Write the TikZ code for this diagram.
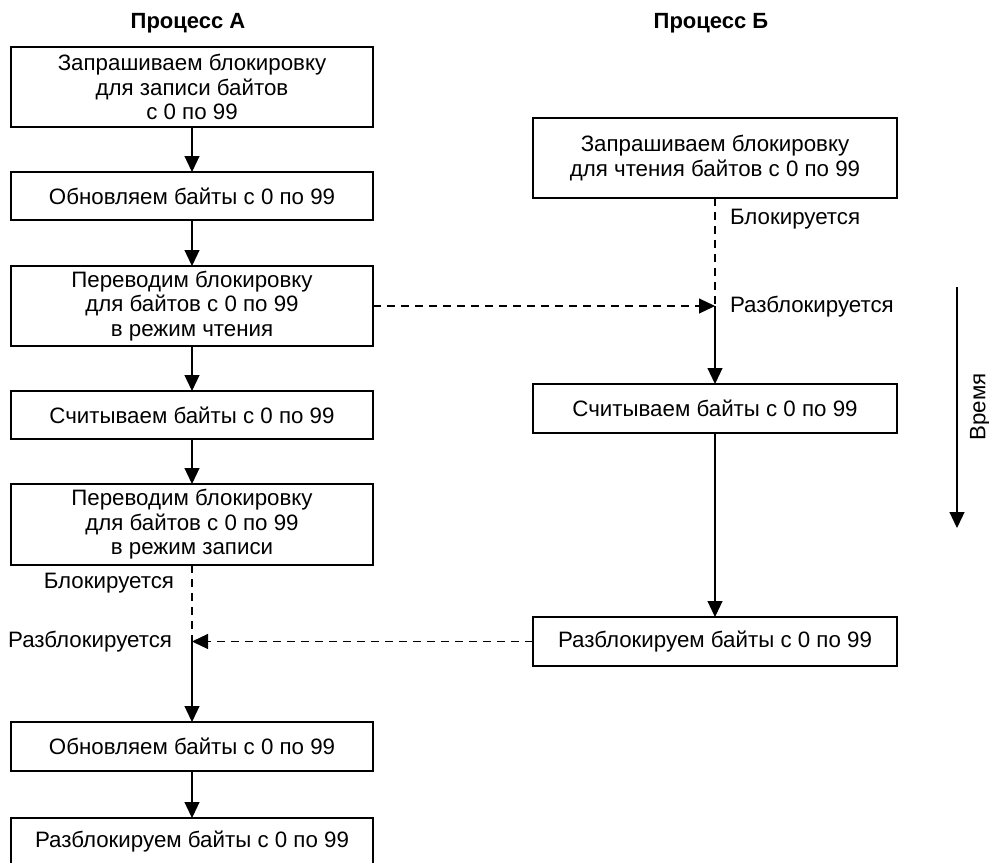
\documentclass[tikz,border=0pt]{standalone}
\usepackage{fontspec}
\setmainfont{Liberation Sans}
\usetikzlibrary{arrows.meta}
\begin{document}
\begin{tikzpicture}[x=1pt,y=-1pt,
  every node/.style={inner sep=0pt, outer sep=0pt},
  txt/.style={font=\fontsize{22.3}{24.5}\selectfont, align=center},
  ttl/.style={font=\fontsize{22}{24}\selectfont\bfseries},
  lbl/.style={font=\fontsize{22.3}{24.5}\selectfont},
  boxA/.style={txt, draw, line width=1.2pt, minimum width=362pt},
  boxB/.style={txt, draw, line width=1.2pt, minimum width=364pt},
  conn/.style={line width=1.2pt, -{Triangle[length=16pt,width=15pt]}},
  dashline/.style={line width=1.2pt, dash pattern=on 8pt off 6pt},
  dasharr/.style={dashline, -{Triangle[length=16pt,width=15pt]}}
]
\useasboundingbox (0,0) rectangle (989,863);

% titles
\node[ttl] (tA) at (188,23) {Процесс А};
\node[ttl] (tB) at (711,23) {Процесс Б};

% process A
\node[boxA, minimum height=80pt] (A1) at (192,87) {Запрашиваем блокировку\\для записи байтов\\с 0 по 99};
\node[boxA, minimum height=48pt] (A2) at (192,196) {Обновляем байты с 0 по 99};
\node[boxA, minimum height=80pt] (A3) at (192,306) {Переводим блокировку\\для байтов с 0 по 99\\в режим чтения};
\node[boxA, minimum height=48pt] (A4) at (192,415) {Считываем байты с 0 по 99};
\node[boxA, minimum height=81pt] (A5) at (192,524.5) {Переводим блокировку\\для байтов с 0 по 99\\в режим записи};
\node[boxA, minimum height=49pt] (A6) at (192,746.5) {Обновляем байты с 0 по 99};
\node[boxA, minimum height=48pt] (A7) at (192,842) {Разблокируем байты с 0 по 99};

% process B
\node[boxB, minimum height=80pt] (B1) at (715,158) {Запрашиваем блокировку\\для чтения байтов с 0 по 99};
\node[boxB, minimum height=49pt] (B2) at (715,408.5) {Считываем байты с 0 по 99};
\node[boxB, minimum height=49pt] (B3) at (715,641.5) {Разблокируем байты с 0 по 99};

% junction points
\coordinate (uA) at (192,641.5);
\coordinate (uB) at (715,306);

% labels
\node[lbl, anchor=east] (lA1) at (174,583) {Блокируется};
\node[lbl, anchor=east] (lA2) at (172,641.5) {Разблокируется};
\node[lbl, anchor=west] (lB1) at (730,219) {Блокируется};
\node[lbl, anchor=west] (lB2) at (730,307) {Разблокируется};

% connectors A
\draw[conn] (A1.south) -- (A2.north);
\draw[conn] (A2.south) -- (A3.north);
\draw[conn] (A3.south) -- (A4.north);
\draw[conn] (A4.south) -- (A5.north);
\draw[dashline] (A5.south) -- (uA);
\draw[conn] (uA) -- (A6.north);
\draw[conn] (A6.south) -- (A7.north);

% connectors B
\draw[dashline] (B1.south) -- (uB);
\draw[conn] (uB) -- (B2.north);
\draw[conn] (B2.south) -- (B3.north);

% cross connectors
\draw[dasharr] (A3.east) -- (uB);
\draw[dasharr] (B3.west) -- (uA);

% time arrow
\coordinate (t0) at (957,287);
\coordinate (t1) at (957,528);
\draw[conn] (t0) -- (t1);
\node[lbl, rotate=90] (time) at (980,407) {Время};
\end{tikzpicture}
\end{document}
